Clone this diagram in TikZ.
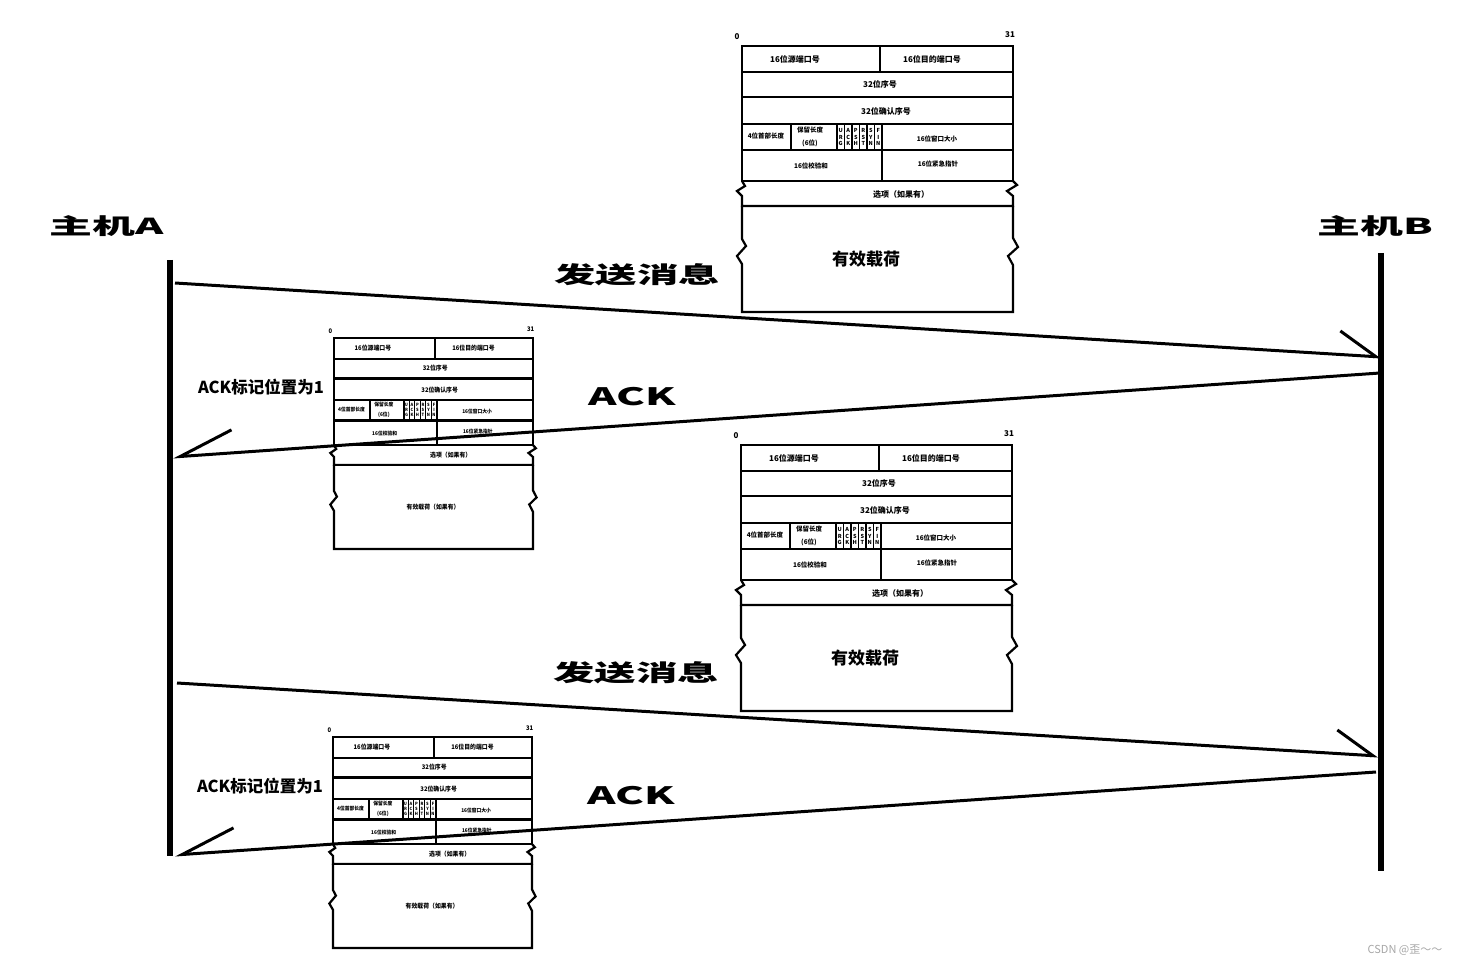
\documentclass[tikz,border=0pt]{standalone}
\usepackage{fontspec}
\setmainfont{Noto Sans CJK SC}
\usetikzlibrary{arrows.meta}

\tikzset{
    host/.style={line width=5.5pt},
    msg/.style={line width=3pt},
    sendarr/.style={msg, -{Straight Barb[left, length=37pt, width=47pt]}},
    ackarr/.style={msg, -{Straight Barb[right, length=53pt, width=46pt]}},
    frame/.style={line width=2.2pt},
    flagline/.style={line width=1.1pt},
    bigtxt/.style={inner sep=0, font=\fontsize{22}{24}\selectfont\bfseries},
    note/.style={inner sep=0, font=\fontsize{16.5}{18}\selectfont\bfseries},
    hdr/.style={inner sep=0, font=\fontsize{8}{9}\selectfont\bfseries},
    hdrs/.style={inner sep=0, font=\fontsize{6.5}{7.5}\selectfont\bfseries},
    flag/.style={inner sep=0, align=center, font=\fontsize{5.5}{6.5}\selectfont\bfseries},
}

\begin{document}
\begin{tikzpicture}[x=1pt, y=-1pt]
    \useasboundingbox (0,0) rectangle (1461,965);

    % TCP headers (two large, two small)
    \foreach \hn/\hx/\hy/\sx/\sy/\px/\pl in {
        h1/742/46/1/1/124/{\fontsize{17}{19}\selectfont 有效载荷},
        h2/334/338/0.734/0.793/135/{\fontsize{8}{9}\selectfont 有效载荷（如果有）},
        h3/741/445/1/1/124/{\fontsize{17}{19}\selectfont 有效载荷},
        h4/333/737/0.734/0.793/135/{\fontsize{8}{9}\selectfont 有效载荷（如果有）}} {
    \begin{scope}[shift={(\hx,\hy)}, xscale=\sx, yscale=\sy, transform shape]
        % rows
        \draw[frame] (0,0) rectangle (271,135);
        \draw[frame] (0,26) -- (271,26) (0,51) -- (271,51) (0,78) -- (271,78) (0,104) -- (271,104);
        \draw[frame] (138,0) -- (138,26);
        \draw[frame] (49,78) -- (49,104) (95,78) -- (95,104) (140,78) -- (140,104) (140,104) -- (140,135);
        \foreach \k in {1,...,5}
            \draw[flagline] (95+7.5*\k,78) -- (95+7.5*\k,104);
        % options and payload with broken sides
        \draw[frame] (0,135) -- (3,140) -- (-5,145) -- (0,150) -- (0,160) -- (271,160)
            -- (271,150) -- (265,145) -- (275,139) -- (271,135);
        \draw[frame] (0,160) -- (0,193) -- (4,200) -- (-5,210) -- (0,218) -- (0,266)
            -- (271,266) -- (271,219) -- (266,210) -- (276,201) -- (271,192) -- (271,160);
        % texts
        \node[hdr] (\hn-lo) at (-5,-9) {0};
        \node[hdr] (\hn-hi) at (268,-11) {31};
        \node[hdr] (\hn-src) at (53,13) {16位源端口号};
        \node[hdr] (\hn-dst) at (190,13) {16位目的端口号};
        \node[hdr] (\hn-seq) at (138,38.5) {32位序号};
        \node[hdr] (\hn-ack) at (144,65) {32位确认序号};
        \node[hdrs] (\hn-len) at (24,90) {4位首部长度};
        \node[hdrs] (\hn-res) at (68,84) {保留长度};
        \node[hdrs] (\hn-six) at (68,97) {(6位)};
        \foreach \f [count=\k from 0] in {U\\R\\G, A\\C\\K, P\\S\\H, R\\S\\T, S\\Y\\N, F\\I\\N}
            \node[flag] (\hn-f\k) at (98.75+7.5*\k,91) {\f};
        \node[hdrs] (\hn-win) at (195,93) {16位窗口大小};
        \node[hdrs] (\hn-sum) at (69,120) {16位校验和};
        \node[hdrs] (\hn-urg) at (196,118) {16位紧急指针};
        \node[hdr] (\hn-opt) at (159,148) {选项（如果有）};
        \node[inner sep=0, font=\bfseries] (\hn-pay) at (\px,213) {\pl};
    \end{scope}
    }

    % Hosts
    \node[bigtxt] (hostA) at (107,226) {\scalebox{1.95}[1]{主机A}};
    \node[bigtxt] (hostB) at (1375,226) {\scalebox{1.95}[1]{主机B}};
    \coordinate (aTop) at (170,260);
    \coordinate (aBot) at (170,856);
    \coordinate (bTop) at (1381,253);
    \coordinate (bBot) at (1381,871);
    \draw[host] (aTop) -- (aBot);
    \draw[host] (bTop) -- (bBot);

    % Messages
    \coordinate (s1) at (175,283);
    \coordinate (r1) at (1381,357);
    \coordinate (k1) at (1380,373);
    \coordinate (q1) at (173,457);
    \coordinate (s2) at (177,683);
    \coordinate (r2) at (1378,756);
    \coordinate (k2) at (1376,772);
    \coordinate (q2) at (175,855);
    \draw[sendarr] (s1) -- (r1);
    \draw[ackarr] (k1) -- (q1);
    \draw[sendarr] (s2) -- (r2);
    \draw[ackarr] (k2) -- (q2);

    % Labels
    \node[bigtxt, font=\fontsize{23}{25}\selectfont\bfseries] (send1) at (637,275) {\scalebox{1.8}[1]{发送消息}};
    \node[bigtxt, font=\fontsize{23}{25}\selectfont\bfseries] (send2) at (636,673) {\scalebox{1.8}[1]{发送消息}};
    \node[bigtxt, font=\fontsize{24}{26}\selectfont\bfseries] (ack1) at (632,397) {\scalebox{1.8}[1]{ACK}};
    \node[bigtxt, font=\fontsize{24}{26}\selectfont\bfseries] (ack2) at (631,796) {\scalebox{1.8}[1]{ACK}};
    \node[note] (flag1) at (261,387) {ACK标记位置为1};
    \node[note] (flag2) at (260,786) {ACK标记位置为1};
    \node[inner sep=0, font=\fontsize{11}{12}\selectfont, text=gray!70] (mark) at (1405,950) {CSDN @歪～～};
\end{tikzpicture}
\end{document}
